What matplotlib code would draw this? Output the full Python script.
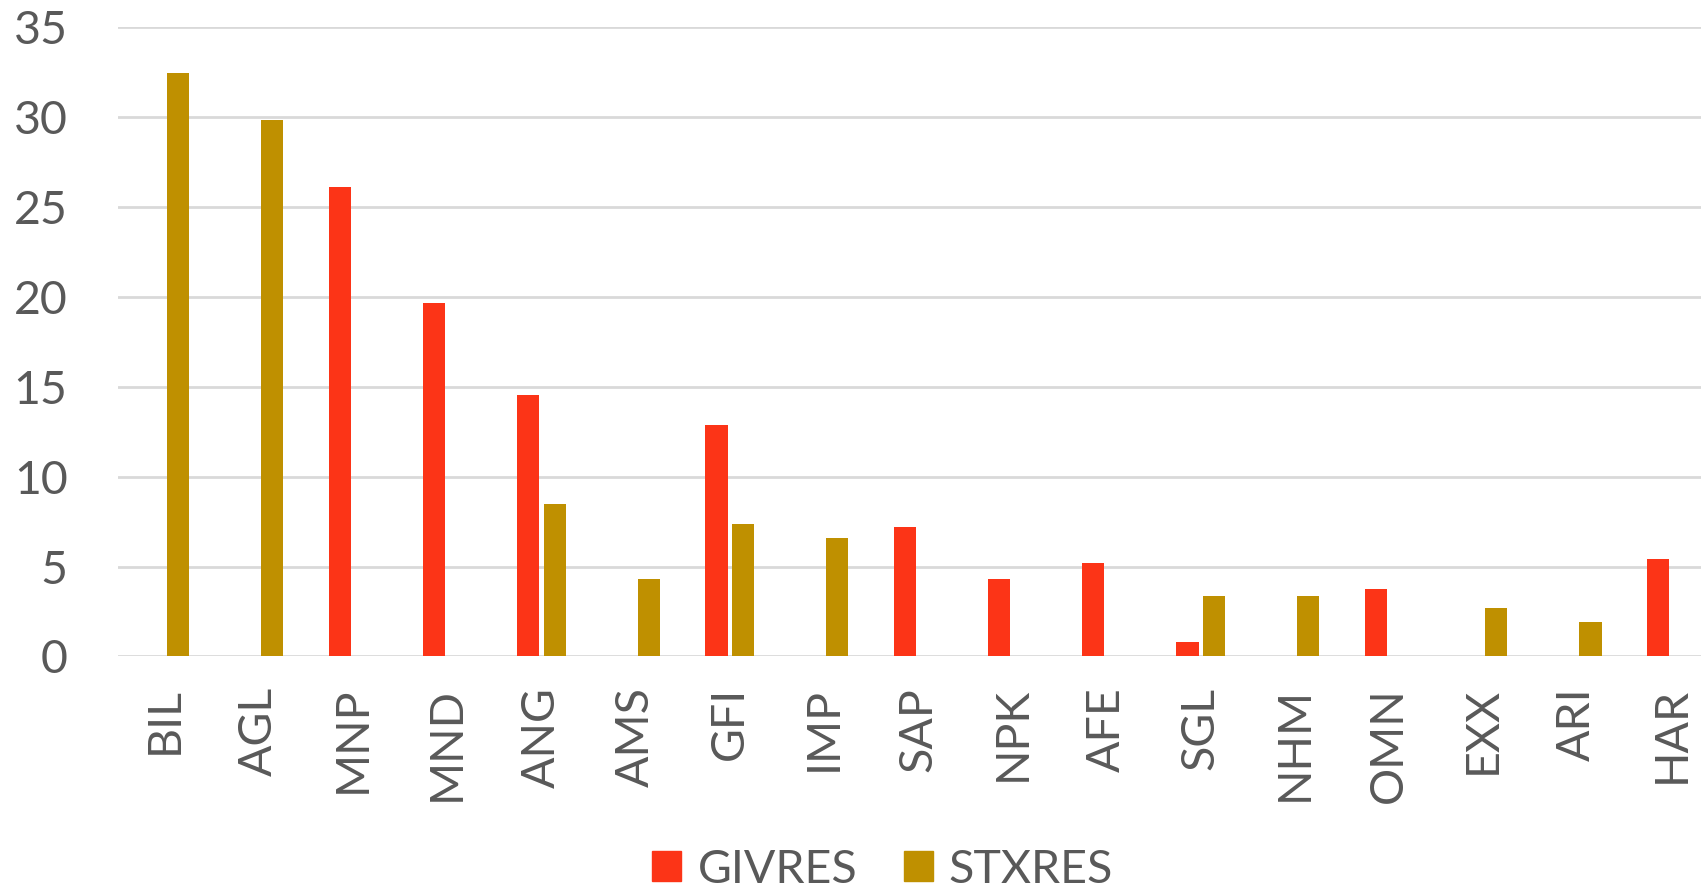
import numpy as np
import matplotlib
matplotlib.use("Agg")
import matplotlib.pyplot as plt
from matplotlib.patches import Patch

plt.rcParams['font.family'] = ['Lato', 'DejaVu Sans']

# data
tickers = ["BIL", "AGL", "MNP", "MND", "ANG", "AMS", "GFI", "IMP", "SAP",
           "NPK", "AFE", "SGL", "NHM", "OMN", "EXX", "ARI", "HAR"]
givres = [np.nan, np.nan, 26.1, 19.65, 14.55, np.nan, 12.86, np.nan, 7.17,
          4.28, 5.2, 0.8, np.nan, 3.73, np.nan, np.nan, 5.39]
stxres = [32.43, 29.83, np.nan, np.nan, 8.48, 4.33, 7.34, 6.56, np.nan,
          np.nan, np.nan, 3.34, 3.34, np.nan, 2.7, 1.92, np.nan]

red = '#FC3417'
gold = '#BF9000'
grey = '#595959'

fig = plt.figure(figsize=(17.01, 8.91), dpi=100)
# the plot area runs past the right edge, as in the reference
ax = fig.add_axes([117.6 / 1701, 1 - 656.4 / 891, 1601 / 1701, 629.3 / 891])

x = np.arange(len(tickers))
w = 0.235
off = 0.14
ax.bar(x - off, givres, w, color=red, zorder=3)
ax.bar(x + off, stxres, w, color=gold, zorder=3)

ax.set_xlim(-0.5, len(tickers) - 0.5)
ax.set_ylim(0, 35)
ax.set_yticks(range(0, 36, 5))
ax.yaxis.grid(True, color='#D9D9D9', linewidth=2, zorder=0)
ax.set_axisbelow(True)
for s in ax.spines.values():
    s.set_visible(False)

ax.set_xticks(x)
ax.set_xticklabels(tickers, rotation=90)
ax.tick_params(axis='x', length=0, pad=22, labelsize=33.5, labelcolor=grey)
ax.tick_params(axis='y', length=0, pad=36, labelsize=33.5, labelcolor=grey)

handles = [Patch(color=red, label='GIVRES'), Patch(color=gold, label='STXRES')]
fig.legend(handles=handles, loc='center', bbox_to_anchor=(0.519, 0.024),
           ncol=2, frameon=False, fontsize=33.5, labelcolor=grey,
           handlelength=0.62, handleheight=0.62, handletextpad=0.35,
           columnspacing=1.0)

fig.savefig('out.png', dpi=100)
